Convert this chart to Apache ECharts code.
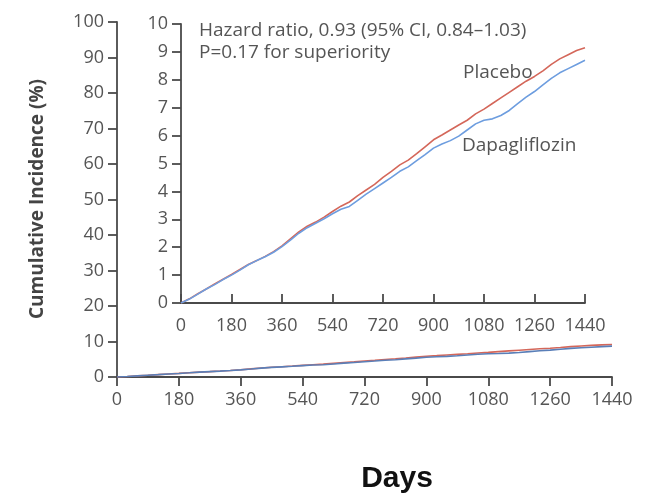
<!DOCTYPE html>
<html>
<head>
<meta charset="utf-8">
<script src="https://cdn.jsdelivr.net/npm/echarts@6/dist/echarts.min.js"></script>
<style>
  html, body { margin: 0; padding: 0; background: #fff; }
  #chart { width: 653px; height: 496px; }
</style>
</head>
<body>
<div id="chart"></div>
<script>
// Days since randomization at which the curves are sampled
const days = [0, 30, 60, 90, 120, 150, 180, 210, 240, 270, 300, 330, 360, 390, 420, 450, 480, 510,
  540, 570, 600, 630, 660, 690, 720, 750, 780, 810, 840, 870, 900, 930, 960, 990, 1020, 1050,
  1080, 1110, 1140, 1170, 1200, 1230, 1260, 1290, 1320, 1350, 1380, 1410, 1440];

// Cumulative incidence (%) per arm
const placebo = [0, 0.15, 0.33, 0.50, 0.68, 0.85, 1.02, 1.20, 1.38, 1.52, 1.67, 1.84, 2.05, 2.30,
  2.55, 2.75, 2.90, 3.08, 3.28, 3.47, 3.62, 3.85, 4.05, 4.25, 4.50, 4.72, 4.95, 5.12, 5.35, 5.60,
  5.85, 6.02, 6.20, 6.38, 6.55, 6.78, 6.95, 7.15, 7.35, 7.55, 7.75, 7.95, 8.12, 8.32, 8.55, 8.75,
  8.90, 9.05, 9.15];
const dapagliflozin = [0, 0.14, 0.32, 0.50, 0.66, 0.84, 1.00, 1.18, 1.37, 1.52, 1.66, 1.82, 2.02,
  2.25, 2.50, 2.70, 2.86, 3.02, 3.20, 3.36, 3.46, 3.68, 3.90, 4.10, 4.30, 4.50, 4.72, 4.88, 5.10,
  5.32, 5.55, 5.70, 5.82, 5.98, 6.20, 6.42, 6.55, 6.60, 6.72, 6.90, 7.15, 7.38, 7.58, 7.82, 8.05,
  8.25, 8.40, 8.55, 8.70];

// Axis ticks
const xTicks = [0, 180, 360, 540, 720, 900, 1080, 1260, 1440];
const mainYTicks = [0, 10, 20, 30, 40, 50, 60, 70, 80, 90, 100];
const insetYTicks = [0, 1, 2, 3, 4, 5, 6, 7, 8, 9, 10];

const annotationLines = ['Hazard ratio, 0.93 (95% CI, 0.84\u20131.03)', 'P=0.17 for superiority'];

const pair = (vals) => days.map((d, i) => [d, vals[i]]);

const RED = '#d4675a';
const BLUE = '#6d9ddf';
const AXIS = '#4a4a4a';
const LABEL = '#555555';
const FONT = '"Open Sans", "DejaVu Sans", sans-serif';

const axisLine = { show: true, lineStyle: { color: AXIS, width: 1.8 } };
const labelStyle = { color: LABEL, fontSize: 18, fontFamily: FONT, formatter: (v) => String(v) };

function xAxisFor(gridIndex, inside) {
  return {
    type: 'value', gridIndex,
    min: xTicks[0], max: xTicks[xTicks.length - 1], interval: xTicks[1] - xTicks[0],
    axisLine,
    axisTick: { show: true, inside, length: 9, lineStyle: { color: AXIS, width: 1.8 } },
    axisLabel: Object.assign({ margin: 14, showMinLabel: true, showMaxLabel: true }, labelStyle),
    splitLine: { show: false }
  };
}
function yAxisFor(gridIndex, ticks) {
  return {
    type: 'value', gridIndex,
    min: ticks[0], max: ticks[ticks.length - 1], interval: ticks[1] - ticks[0],
    axisLine,
    axisTick: { show: true, inside: false, length: 9, lineStyle: { color: AXIS, width: 1.8 } },
    axisLabel: Object.assign({ margin: 13 }, labelStyle),
    splitLine: { show: false }
  };
}

const chart = echarts.init(document.getElementById('chart'), null, { renderer: 'canvas' });

const textFont = '19px ' + FONT;

chart.setOption({
  animation: false,
  backgroundColor: '#ffffff',
  grid: [
    { left: 117, right: 41, top: 22, bottom: 119 },
    { left: 181, right: 68, top: 24, bottom: 193 }
  ],
  xAxis: [xAxisFor(0, false), xAxisFor(1, true)],
  yAxis: [yAxisFor(0, mainYTicks), yAxisFor(1, insetYTicks)],
  series: [
    { name: 'Placebo', type: 'line', xAxisIndex: 0, yAxisIndex: 0, data: pair(placebo),
      showSymbol: false, lineStyle: { color: RED, width: 1.6 } },
    { name: 'Dapagliflozin', type: 'line', xAxisIndex: 0, yAxisIndex: 0, data: pair(dapagliflozin),
      showSymbol: false, lineStyle: { color: '#5a7fb8', width: 1.6 } },
    { name: 'Placebo', type: 'line', xAxisIndex: 1, yAxisIndex: 1, data: pair(placebo),
      showSymbol: false, lineStyle: { color: RED, width: 1.6 } },
    { name: 'Dapagliflozin', type: 'line', xAxisIndex: 1, yAxisIndex: 1, data: pair(dapagliflozin),
      showSymbol: false, lineStyle: { color: BLUE, width: 1.6 } }
  ],
  graphic: [
    { type: 'text', left: 199, top: 21,
      style: { text: annotationLines[0], fill: LABEL, font: textFont } },
    { type: 'text', left: 199, top: 43,
      style: { text: annotationLines[1], fill: LABEL, font: textFont } },
    { type: 'text', left: 463, top: 63,
      style: { text: 'Placebo', fill: LABEL, font: textFont } },
    { type: 'text', left: 462, top: 136,
      style: { text: 'Dapagliflozin', fill: LABEL, font: textFont } },
    { type: 'text', x: 38, y: 199, rotation: Math.PI / 2,
      style: { text: 'Cumulative Incidence (%)', fill: '#444', font: 'bold 19px ' + FONT,
        align: 'center', verticalAlign: 'middle' } },
    { type: 'text', x: 397, y: 479,
      style: { text: 'Days', fill: '#111', font: 'bold 30px "Liberation Sans", Arial, sans-serif',
        align: 'center', verticalAlign: 'middle' } }
  ]
});
</script>
</body>
</html>
